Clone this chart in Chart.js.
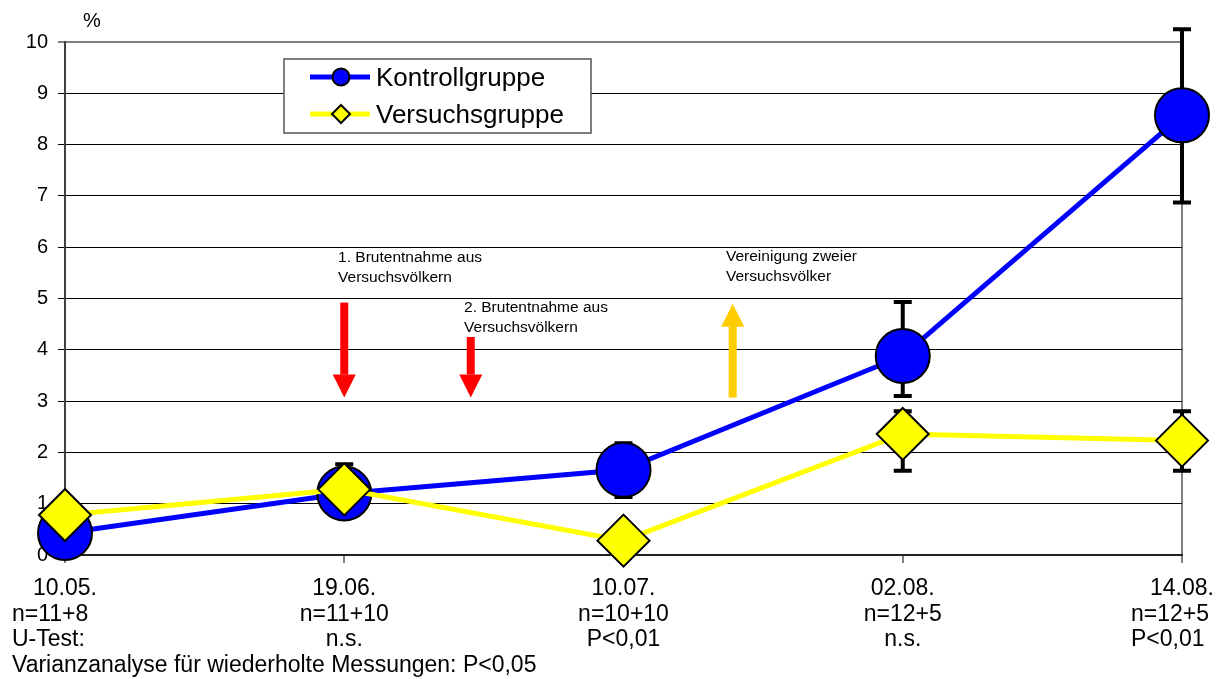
<!DOCTYPE html>
<html>
<head>
<meta charset="utf-8">
<script src="https://cdn.jsdelivr.net/npm/chart.js@4/dist/chart.umd.min.js"></script>
<style>
  body { margin: 0; background: #fff; }
</style>
</head>
<body>
<canvas id="grafico" width="1220" height="679"></canvas>
<script>
var datas = ["10.05.", "19.06.", "10.07.", "02.08.", "14.08."];
var amostras = ["n=11+8", "n=11+10", "n=10+10", "n=12+5", "n=12+5"];
var uTeste = ["U-Test:", "n.s.", "P<0,01", "n.s.", "P<0,01"];

var kontroll = [0.43, 1.2, 1.66, 3.88, 8.57];
var kontrollMin = [null, null, 1.13, 3.10, 6.87];
var kontrollMax = [null, null, 2.18, 4.93, 10.25];

var versuch = [0.78, 1.28, 0.28, 2.36, 2.23];
var versuchMin = [null, 0.85, null, 1.64, 1.64];
var versuchMax = [null, 1.77, null, 2.80, 2.80];

var fonte = '"Liberation Sans", Arial, sans-serif';

// barras de erro, desenhadas antes das linhas
var barrasErro = {
    id: 'barrasErro',
    beforeDatasetsDraw: function (chart) {
        var ctx = chart.ctx;
        var x = chart.scales.x, y = chart.scales.y;
        ctx.save();
        ctx.strokeStyle = '#000';
        ctx.lineWidth = 4;
        chart.data.datasets.forEach(function (ds) {
            for (var i = 0; i < ds.data.length; i++) {
                if (ds.erroMin[i] == null) continue;
                var px = x.getPixelForValue(i);
                var y1 = y.getPixelForValue(ds.erroMin[i]);
                var y2 = y.getPixelForValue(ds.erroMax[i]);
                ctx.beginPath();
                ctx.moveTo(px, y1); ctx.lineTo(px, y2);
                ctx.moveTo(px - 9, y1); ctx.lineTo(px + 9, y1);
                ctx.moveTo(px - 9, y2); ctx.lineTo(px + 9, y2);
                ctx.stroke();
            }
        });
        ctx.restore();
    }
};

function seta(ctx, px, yDe, yAte, cor) {
    var dir = yAte > yDe ? 1 : -1;
    var cab = 23;
    ctx.fillStyle = cor;
    ctx.fillRect(px - 4, Math.min(yDe, yAte - dir * cab), 8, Math.abs(yAte - dir * cab - yDe));
    ctx.beginPath();
    ctx.moveTo(px - 11.5, yAte - dir * cab);
    ctx.lineTo(px + 11.5, yAte - dir * cab);
    ctx.lineTo(px, yAte);
    ctx.closePath();
    ctx.fill();
}

// setas, textos, legenda e rotulos do eixo x
var extras = {
    id: 'extras',
    afterDraw: function (chart) {
        var ctx = chart.ctx;
        var x = chart.scales.x, y = chart.scales.y;
        ctx.save();

        seta(ctx, x.getPixelForValue(1), y.getPixelForValue(4.92), y.getPixelForValue(3.07), '#FF0000');
        seta(ctx, x.getPixelForValue(1.453), y.getPixelForValue(4.25), y.getPixelForValue(3.07), '#FF0000');
        seta(ctx, x.getPixelForValue(2.391), y.getPixelForValue(3.07), y.getPixelForValue(4.9), '#FFCC00');

        ctx.fillStyle = '#000';
        ctx.font = '15.5px ' + fonte;
        ctx.textAlign = 'left';
        ctx.textBaseline = 'alphabetic';
        ctx.fillText('1. Brutentnahme aus', x.getPixelForValue(0.978), y.getPixelForValue(5.71));
        ctx.fillText('Versuchsvölkern', x.getPixelForValue(0.978), y.getPixelForValue(5.71) + 20);
        ctx.fillText('2. Brutentnahme aus', x.getPixelForValue(1.429), y.getPixelForValue(4.73));
        ctx.fillText('Versuchsvölkern', x.getPixelForValue(1.429), y.getPixelForValue(4.73) + 20);
        ctx.fillText('Vereinigung zweier', x.getPixelForValue(2.367), y.getPixelForValue(5.74));
        ctx.fillText('Versuchsvölker', x.getPixelForValue(2.367), y.getPixelForValue(5.74) + 20);

        ctx.font = '20px ' + fonte;
        ctx.fillText('%', 83, 27);

        // legenda
        ctx.fillStyle = '#fff';
        ctx.fillRect(284, 59, 307, 74);
        ctx.strokeStyle = '#555';
        ctx.lineWidth = 1.5;
        ctx.strokeRect(284, 59, 307, 74);
        chart.data.datasets.forEach(function (ds, k) {
            var ly = 77 + k * 37;
            ctx.strokeStyle = ds.borderColor;
            ctx.lineWidth = 5;
            ctx.beginPath();
            ctx.moveTo(310, ly); ctx.lineTo(370, ly);
            ctx.stroke();
            ctx.fillStyle = ds.pointBackgroundColor;
            ctx.strokeStyle = '#000';
            ctx.lineWidth = 2;
            ctx.beginPath();
            if (ds.pointStyle === 'circle') {
                ctx.arc(341, ly, 8.5, 0, Math.PI * 2);
            } else {
                ctx.moveTo(341, ly - 9); ctx.lineTo(350, ly); ctx.lineTo(341, ly + 9); ctx.lineTo(332, ly);
                ctx.closePath();
            }
            ctx.fill();
            ctx.stroke();
            ctx.fillStyle = '#000';
            ctx.font = '26px ' + fonte;
            ctx.fillText(ds.label, 376, ly + 9);
        });

        // rotulos do eixo x
        ctx.font = '23px ' + fonte;
        var base = chart.chartArea.bottom;
        var ultimo = datas.length - 1;
        for (var i = 0; i < datas.length; i++) {
            var px = x.getPixelForTick(i);
            ctx.textAlign = 'center';
            ctx.fillText(datas[i], px, base + 40);
            var lx = px;
            if (i === 0) { ctx.textAlign = 'left'; lx = px - 53; }
            if (i === ultimo) { ctx.textAlign = 'left'; lx = px - 51; }
            ctx.fillText(amostras[i], lx, base + 65.5);
            ctx.fillText(uTeste[i], lx, base + 91);
        }
        ctx.textAlign = 'left';
        ctx.fillText('Varianzanalyse für wiederholte Messungen: P<0,05', 12, base + 117);
        ctx.restore();
    }
};

var ctx = document.getElementById("grafico");
var grafico = new Chart(ctx, {
    type: 'line',
    data: {
        labels: datas,
        datasets: [{
            label: "Kontrollgruppe",
            data: kontroll,
            erroMin: kontrollMin,
            erroMax: kontrollMax,
            borderColor: '#0000FF',
            backgroundColor: '#0000FF',
            borderWidth: 5,
            pointStyle: 'circle',
            pointRadius: 27,
            pointHoverRadius: 27,
            pointBackgroundColor: '#0000FF',
            pointBorderColor: '#000',
            pointBorderWidth: 2,
            order: 1,
            clip: false
        }, {
            label: "Versuchsgruppe",
            data: versuch,
            erroMin: versuchMin,
            erroMax: versuchMax,
            borderColor: '#FFFF00',
            backgroundColor: '#FFFF00',
            borderWidth: 5,
            pointStyle: 'rectRot',
            pointRadius: 26,
            pointHoverRadius: 26,
            pointBackgroundColor: '#FFFF00',
            pointBorderColor: '#000',
            pointBorderWidth: 2,
            order: 0,
            clip: false
        }]
    },
    options: {
        responsive: false,
        animation: false,
        events: [],
        layout: { padding: { left: 0, top: 42, right: 38, bottom: 0 } },
        plugins: {
            legend: { display: false },
            tooltip: { enabled: false }
        },
        scales: {
            x: {
                offset: false,
                afterFit: function (s) { s.height = 124; },
                ticks: { display: false },
                border: { display: true, color: '#222', width: 2 },
                grid: {
                    color: function (c) { return c.index === datas.length - 1 ? '#808080' : 'rgba(0,0,0,0)'; },
                    lineWidth: 2,
                    tickColor: '#000',
                    tickWidth: 1,
                    tickLength: 8
                }
            },
            y: {
                min: 0,
                max: 10,
                afterFit: function (s) { s.width = 65; },
                ticks: {
                    stepSize: 1,
                    padding: 10,
                    color: '#000',
                    font: { family: fonte, size: 20 }
                },
                border: { display: true, color: '#404040', width: 2 },
                grid: {
                    color: function (c) { return c.tick.value === 10 ? '#808080' : '#000'; },
                    lineWidth: function (c) { return c.tick.value === 10 ? 2 : 1; },
                    tickColor: '#000',
                    tickWidth: 1,
                    tickLength: 7
                }
            }
        }
    },
    plugins: [barrasErro, extras]
});
</script>
</body>
</html>
